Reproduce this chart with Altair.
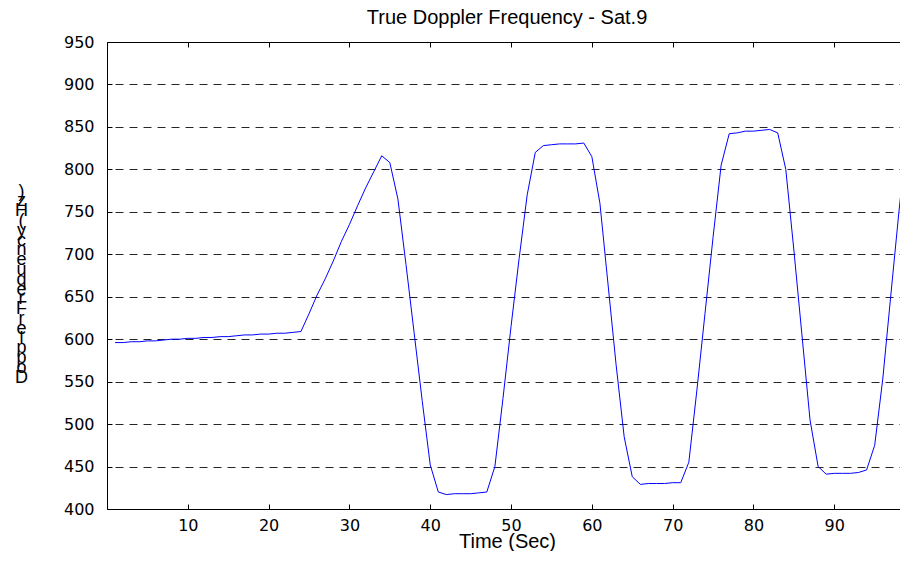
import altair as alt
import pandas as pd

# Time (s) and true Doppler frequency (Hz)
time_s = list(range(1, 100))
doppler_hz = [
    596, 596, 597, 597, 598, 598, 599, 600, 600, 601,
    601, 602, 602, 603, 603, 604, 605, 605, 606, 606,
    607, 607, 608, 609, 630, 652, 671, 692, 715, 735,
    757, 778, 797, 816, 808, 765, 688, 608, 528, 452,
    420, 417, 418, 418, 418, 419, 420, 450, 530, 615,
    695, 770, 820, 828, 829, 830, 830, 830, 831, 815,
    760, 665, 570, 485, 438, 429, 430, 430, 430, 431,
    431, 455, 540, 630, 720, 805, 842, 843, 845, 845,
    846, 847, 843, 800, 705, 605, 505, 450, 441, 442,
    442, 442, 443, 446, 475, 553, 652, 750, 840,
]
x_ticks = [10, 20, 30, 40, 50, 60, 70, 80, 90]
y_ticks = [400, 450, 500, 550, 600, 650, 700, 750, 800, 850, 900, 950]
y_title = "Doppler Frequency (Hz)"

df = pd.DataFrame({"t": time_s, "f": doppler_hz})

xs = alt.Scale(domain=[0, 99], nice=False, zero=False)
ys = alt.Scale(domain=[400, 950], nice=False, zero=False)

TICK_FONT = "DejaVu Sans"
TEXT_FONT = "Liberation Sans"

main = alt.Chart(df).mark_line(color="#0000ff", strokeWidth=1).encode(
    x=alt.X("t:Q", scale=xs, axis=alt.Axis(
        orient="bottom", values=x_ticks, offset=-5, tickSize=5,
        tickColor="black", domain=False, grid=False,
        labelFont=TICK_FONT, labelFontSize=16, labelColor="black",
        labelPadding=8, title="Time (Sec)", titleFont=TEXT_FONT,
        titleFontSize=20, titleFontWeight="normal", titleColor="black",
        titleBaseline="alphabetic", titleY=43)),
    y=alt.Y("f:Q", scale=ys, axis=alt.Axis(
        orient="left", values=y_ticks, offset=-5, tickSize=5,
        tickColor="black", domain=False, grid=False,
        labelFont=TICK_FONT, labelFontSize=16, labelColor="black",
        labelPadding=13,
        title=list(reversed(list(y_title))), titleAngle=0,
        titleFont=TEXT_FONT, titleFontSize=18, titleFontWeight="normal",
        titleColor="black", titleLineHeight=9.8, titleAlign="center",
        titleBaseline="middle", titleX=-91, titleY=149)),
)

frame = alt.Chart(df).mark_line(opacity=0).encode(
    x=alt.X("t:Q", scale=xs, axis=alt.Axis(
        orient="top", values=x_ticks, offset=-5, tickSize=5,
        tickColor="black", domain=False, grid=False, labels=False,
        title=None)),
    y=alt.Y("f:Q", scale=ys, axis=alt.Axis(
        orient="right", values=y_ticks, ticks=False, labels=False,
        domain=False, grid=True, gridColor="black", gridDash=[8, 6],
        gridWidth=1, gridOpacity=0.85, title=None)),
)

chart = alt.layer(frame, main).resolve_axis(
    x="independent", y="independent"
).properties(
    width=800, height=467,
    padding={"left": 99, "top": 34, "right": -7, "bottom": 42},
    autosize="none",
    title=alt.TitleParams("True Doppler Frequency - Sat.9", font=TEXT_FONT,
                          fontSize=20, fontWeight="normal", color="black",
                          anchor="middle", offset=6),
).configure_view(stroke="black", strokeWidth=1)

chart.save("out.html", embed_options={"renderer": "svg", "actions": False})
